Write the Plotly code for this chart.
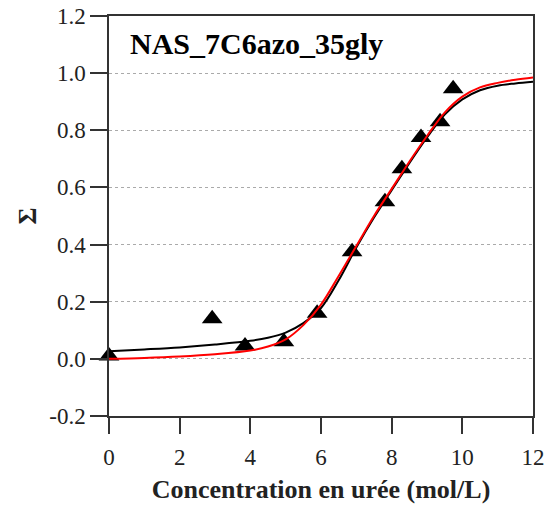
import plotly.graph_objects as go

# points expérimentaux
conc = [0.0, 2.92, 3.85, 4.95, 5.89, 6.88, 7.81, 8.29, 8.83, 9.37, 9.74]
sigma = [0.01, 0.14, 0.045, 0.06, 0.16, 0.375, 0.55, 0.665, 0.775, 0.83, 0.945]

# courbes d'ajustement
fit_x = [0, 1, 2, 3, 4, 4.5, 5, 5.5, 6, 6.5, 7, 7.5, 8, 8.5, 9, 9.5, 10, 10.5, 11, 11.5, 12]
fit_noir = [0.027, 0.033, 0.040, 0.050, 0.063, 0.074, 0.092, 0.125, 0.178, 0.275, 0.39, 0.495,
            0.59, 0.685, 0.775, 0.855, 0.908, 0.940, 0.956, 0.964, 0.970]
fit_rouge = [0.0, 0.003, 0.008, 0.016, 0.029, 0.043, 0.068, 0.118, 0.19, 0.29, 0.395, 0.50,
             0.595, 0.69, 0.78, 0.862, 0.918, 0.950, 0.966, 0.977, 0.985]

y_ticks = [-0.2, 0.0, 0.2, 0.4, 0.6, 0.8, 1.0, 1.2]
y_labels = ["-0.2", "0.0", "0.2", "0.4", "0.6", "0.8", "1.0", "1.2"]

serif = "Liberation Serif"

fig = go.Figure()

fig.add_trace(go.Scatter(x=conc, y=sigma, mode="markers", cliponaxis=False,
                         marker=dict(symbol="triangle-up", size=18, color="black"),
                         showlegend=False))
fig.add_trace(go.Scatter(x=fit_x, y=fit_noir, mode="lines", line_shape="spline",
                         line=dict(color="black", width=2), showlegend=False))
fig.add_trace(go.Scatter(x=fit_x, y=fit_rouge, mode="lines", line_shape="spline",
                         line=dict(color="red", width=2), showlegend=False))

fig.update_layout(
    width=547, height=511,
    margin=dict(l=109, r=14, t=16, b=95),
    plot_bgcolor="white", paper_bgcolor="white",
    font=dict(family=serif, size=23, color="#222"),
    annotations=[dict(text="<b>NAS_7C6azo_35gly</b>", x=0.045, y=0.93,
                      xref="paper", yref="paper", xanchor="left", yanchor="middle",
                      showarrow=False, font=dict(family=serif, size=30, color="black"))],
)

fig.update_xaxes(
    range=[0, 12], dtick=2, tick0=0, automargin=False,
    showline=True, linecolor="#333", linewidth=1.5, mirror=True,
    ticks="outside", ticklen=16, tickwidth=1.5, tickcolor="#333", ticklabelstandoff=4,
    showgrid=False, zeroline=False,
    title=dict(text="<b>Concentration en urée (mol/L)</b>",
               font=dict(family=serif, size=26, color="#222"), standoff=10),
)
fig.update_yaxes(
    range=[-0.2, 1.2], tickvals=y_ticks, ticktext=y_labels, automargin=False,
    showline=True, linecolor="#333", linewidth=1.5, mirror=True,
    ticks="outside", ticklen=17, tickwidth=1.5, tickcolor="#333",
    showgrid=True, gridcolor="#aaa", griddash="dot", gridwidth=1,
    zeroline=False,
    title=dict(text="<b>Σ</b>", font=dict(family=serif, size=26, color="#222"), standoff=5),
)

# pas de marge autour du graphique dans la page, pas de barre d'outils
fig.write_html("out.html", config={"displayModeBar": False},
               post_script="document.body.style.margin='0';")
